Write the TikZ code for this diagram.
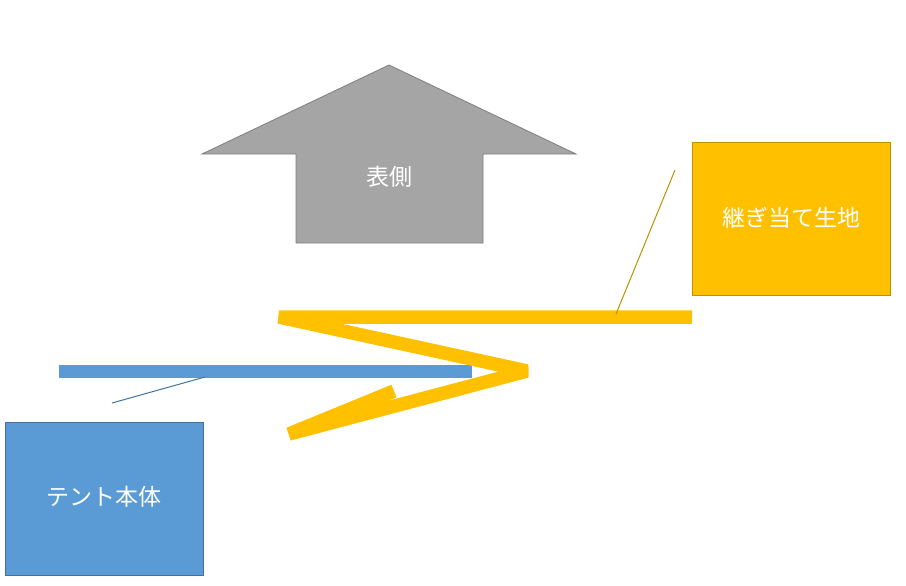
\documentclass[tikz,border=0pt]{standalone}
\usepackage{fontspec}
\newfontfamily\jpfont{Noto Sans CJK JP}
\definecolor{grayfill}{HTML}{A5A5A5}
\definecolor{grayline}{HTML}{7F7F7F}
\definecolor{yel}{HTML}{FFC000}
\definecolor{yelline}{HTML}{BF9000}
\definecolor{blu}{HTML}{5B9BD5}
\definecolor{bluline}{HTML}{41719C}
\tikzset{
  lbl/.style={text=white, font=\jpfont\fontsize{23}{27}\selectfont},
  boxy/.style={draw=yelline, fill=yel, line width=0.8pt},
  boxb/.style={draw=bluline, fill=blu, line width=0.8pt},
  band/.style={line width=13.5pt, line join=bevel},
  leader/.style={line width=1pt}
}
\begin{document}
\begin{tikzpicture}[x=1pt,y=-1pt]
\useasboundingbox (0,0) rectangle (906,586);
% arrow
\draw[fill=grayfill, draw=grayline, line width=0.8pt]
  (389,65) -- (576,154) -- (483,154) -- (483,243) -- (296,243) -- (296,154) -- (202,154) -- cycle;
\node[lbl] (front) at (389,177) {表側};
% boxes
\draw[boxy] (692,142) rectangle (890,295);
\node[lbl] (patch) at (791,218) {継ぎ当て生地};
\draw[boxb] (5,422) rectangle (203,575);
\node[lbl] (tent) at (104,497) {テント本体};
% blue bar
\coordinate (b1) at (59,371.5);
\coordinate (b2) at (472,371.5);
\draw[blu, line width=13pt] (b1) -- (b2);
% yellow zigzag
\coordinate (y1) at (692,317);
\coordinate (y2) at (279,317);
\coordinate (y3) at (527,371);
\coordinate (y4) at (289,434);
\coordinate (y5) at (394,391);
\draw[yel, band] (y1) -- (y2) -- (y3) -- (y4) -- (y5);
% leaders
\coordinate (lb1) at (112,403);
\coordinate (lb2) at (205,377);
\draw[bluline, leader] (lb1) -- (lb2);
\coordinate (ly1) at (675,170);
\coordinate (ly2) at (616,314);
\draw[yelline, leader] (ly1) -- (ly2);
\end{tikzpicture}
\end{document}
